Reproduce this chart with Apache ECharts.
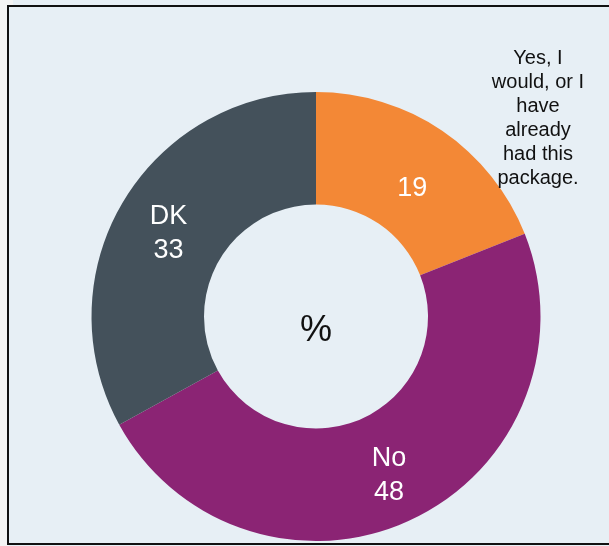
<!DOCTYPE html>
<html>
<head>
<meta charset="utf-8">
<script src="https://cdn.jsdelivr.net/npm/echarts@6/dist/echarts.min.js"></script>
<style>
  html, body { margin: 0; padding: 0; background: #f4f4f4; }
  #chart { width: 609px; height: 546px; }
</style>
</head>
<body>
<div id="chart"></div>
<script>
// Survey answers, shares in percent
const categories = ['Yes, I\nwould, or I\nhave\nalready\nhad this\npackage.', 'No', 'DK'];
const values = [19, 48, 33];
const colors = ['#f38836', '#8b2474', '#44515b'];
const centerText = '%';

const FONT = "'Liberation Sans', Arial, sans-serif";

const pieData = categories.map((name, i) => {
  const item = { name: name, value: values[i], itemStyle: { color: colors[i] } };
  if (i === 0) {
    // the long answer is written beside the ring; only the share sits inside
    item.label = { formatter: '{gap| }\n{c}', rich: { gap: { fontSize: 1, lineHeight: 28 } } };
  }
  return item;
});

const chart = echarts.init(document.getElementById('chart'), null, { renderer: 'canvas' });
chart.setOption({
  backgroundColor: '#e7eff5',
  animation: false,
  graphic: [
    { type: 'rect', shape: { x: 0, y: 0, width: 8, height: 546 }, style: { fill: '#f4f4f4' }, z: 0 },
    { type: 'rect', shape: { x: 0, y: 0, width: 13, height: 5 }, style: { fill: '#f4f4f4' }, z: 0 },
    { type: 'rect', shape: { x: 8, y: 6, width: 610, height: 538 }, style: { fill: 'none', stroke: '#111', lineWidth: 2 }, z: 1 },
    {
      type: 'text', x: 538, y: 118, z: 5,
      style: {
        text: categories[0], fill: '#111', font: '20px ' + FONT,
        lineHeight: 24, textAlign: 'center', textVerticalAlign: 'middle'
      }
    },
    {
      type: 'text', x: 316, y: 331, z: 5,
      style: {
        text: centerText, fill: '#111', font: '36px ' + FONT,
        textAlign: 'center', textVerticalAlign: 'middle'
      }
    }
  ],
  series: [{
    type: 'pie',
    center: [316, 316.5],
    radius: [112, 224.5],
    startAngle: 90,
    clockwise: true,
    silent: true,
    label: {
      show: true,
      position: 'inside',
      formatter: '{gap| }\n{b}\n{c}',
      rich: { gap: { fontSize: 1, lineHeight: 8 } },
      color: '#ffffff',
      fontFamily: FONT,
      fontSize: 27,
      lineHeight: 34,
      textBorderWidth: 0
    },
    labelLine: { show: false },
    itemStyle: { borderWidth: 0 },
    emphasis: { disabled: true },
    data: pieData
  }]
});
</script>
</body>
</html>
